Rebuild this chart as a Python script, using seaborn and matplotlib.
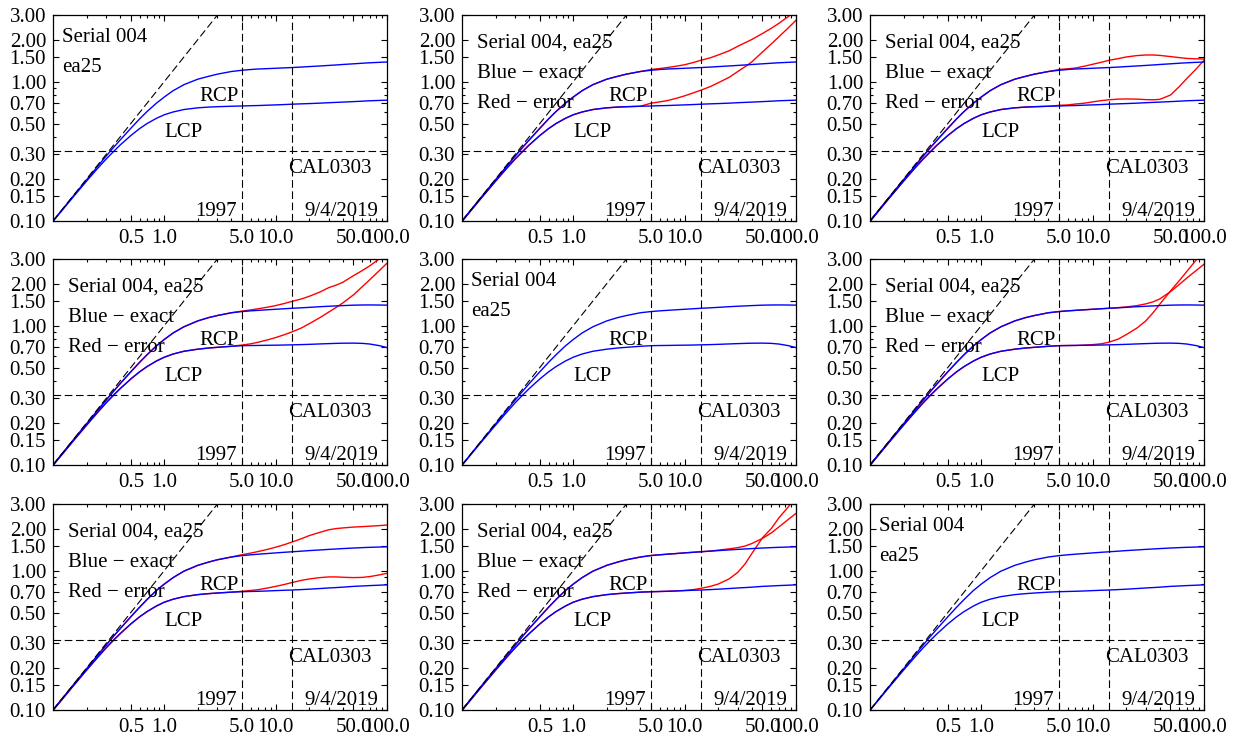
import matplotlib
matplotlib.use("Agg")
import matplotlib.pyplot as plt
import seaborn as sns
from matplotlib.ticker import FixedLocator, FormatStrFormatter, LogLocator, NullFormatter

# flux ratio curves (log-log)
X = [0.1, 0.15, 0.2, 0.25, 0.3, 0.35, 0.4, 0.5, 0.6, 0.7, 0.85, 1, 1.2, 1.5, 2, 2.5, 3, 4,
     5, 6, 7, 8.5, 10, 12, 14, 17, 20, 25, 30, 35, 40, 50, 60, 70, 85, 100]
X_TAIL = [5, 6, 7, 8.5, 10, 12, 14, 17, 20, 25, 30, 35, 40, 50, 60, 70, 85, 100]
N_HEAD = len(X) - len(X_TAIL)

# blue - exact (one pair per row)
RCP_ROW1 = [0.100, 0.149, 0.197, 0.245, 0.292, 0.337, 0.38, 0.462, 0.54, 0.61, 0.70, 0.775,
            0.86, 0.95, 1.04, 1.09, 1.13, 1.18,
            1.205, 1.22, 1.23, 1.238, 1.245, 1.253, 1.26, 1.27, 1.28, 1.293, 1.305, 1.315,
            1.325, 1.34, 1.353, 1.363, 1.373, 1.38]
LCP_ROW1 = [0.0995, 0.147, 0.193, 0.237, 0.278, 0.315, 0.35, 0.41, 0.46, 0.50, 0.545, 0.578,
            0.605, 0.63, 0.648, 0.656, 0.66, 0.665,
            0.668, 0.671, 0.673, 0.677, 0.68, 0.684, 0.688, 0.692, 0.695, 0.70, 0.705, 0.709,
            0.712, 0.718, 0.723, 0.728, 0.732, 0.735]
RCP_ROW2 = [0.100, 0.149, 0.197, 0.245, 0.292, 0.338, 0.382, 0.466, 0.545, 0.618, 0.715, 0.795,
            0.885, 0.98, 1.08, 1.14, 1.18, 1.235,
            1.26, 1.275, 1.285, 1.298, 1.308, 1.32, 1.33, 1.34, 1.35, 1.365, 1.375, 1.383,
            1.39, 1.40, 1.404, 1.405, 1.403, 1.40]
LCP_ROW2 = [0.0995, 0.147, 0.193, 0.237, 0.279, 0.317, 0.352, 0.414, 0.466, 0.508, 0.557, 0.593,
            0.625, 0.654, 0.677, 0.69, 0.698, 0.71,
            0.717, 0.719, 0.72, 0.722, 0.723, 0.725, 0.727, 0.73, 0.733, 0.738, 0.742, 0.745,
            0.747, 0.748, 0.745, 0.737, 0.718, 0.695]
RCP_ROW3 = [0.100, 0.149, 0.197, 0.245, 0.292, 0.338, 0.382, 0.466, 0.546, 0.62, 0.72, 0.80,
            0.89, 0.99, 1.09, 1.15, 1.195, 1.25,
            1.28, 1.297, 1.31, 1.325, 1.338, 1.352, 1.363, 1.377, 1.39, 1.405, 1.418, 1.428,
            1.437, 1.45, 1.46, 1.467, 1.474, 1.48]
LCP_ROW3 = [0.0995, 0.147, 0.193, 0.237, 0.279, 0.317, 0.352, 0.414, 0.466, 0.508, 0.557, 0.593,
            0.623, 0.65, 0.672, 0.683, 0.69, 0.70,
            0.705, 0.708, 0.71, 0.714, 0.718, 0.722, 0.725, 0.73, 0.735, 0.743, 0.75, 0.755,
            0.76, 0.77, 0.775, 0.78, 0.785, 0.79]

# red - error (tail part, x >= 5)
RED_RCP_P2 = [1.22, 1.24, 1.26, 1.29, 1.32, 1.37, 1.42, 1.48, 1.55, 1.66, 1.79, 1.90, 2.0,
              2.21, 2.41, 2.61, 2.92, 3.2]
RED_LCP_P2 = [0.70, 0.715, 0.73, 0.76, 0.79, 0.83, 0.867, 0.92, 0.98, 1.07, 1.18, 1.28, 1.38,
              1.63, 1.86, 2.09, 2.42, 2.75]
RED_RCP_P3 = [1.22, 1.235, 1.25, 1.29, 1.33, 1.375, 1.42, 1.46, 1.50, 1.535, 1.55, 1.55, 1.54,
              1.51, 1.485, 1.465, 1.455, 1.45]
RED_LCP_P3 = [0.675, 0.68, 0.69, 0.70, 0.715, 0.73, 0.74, 0.748, 0.75, 0.748, 0.742, 0.74,
              0.745, 0.80, 0.92, 1.05, 1.23, 1.42]
RED_RCP_P4 = [1.27, 1.295, 1.32, 1.355, 1.39, 1.44, 1.49, 1.55, 1.62, 1.74, 1.87, 1.95, 2.04,
              2.28, 2.48, 2.68, 3.0, 3.35]
RED_LCP_P4 = [0.725, 0.74, 0.76, 0.79, 0.82, 0.86, 0.90, 0.96, 1.03, 1.14, 1.25, 1.35, 1.45,
              1.66, 1.9, 2.13, 2.47, 2.8]
RED_RCP_P6 = [1.26, 1.275, 1.285, 1.298, 1.308, 1.32, 1.33, 1.345, 1.36, 1.39, 1.43, 1.48, 1.55,
              1.75, 1.97, 2.19, 2.48, 2.75]
RED_LCP_P6 = [0.718, 0.719, 0.72, 0.724, 0.73, 0.74, 0.76, 0.80, 0.86, 0.96, 1.08, 1.24, 1.42,
              1.77, 2.1, 2.44, 2.95, 3.4]
RED_RCP_P7 = [1.30, 1.335, 1.37, 1.42, 1.47, 1.535, 1.60, 1.69, 1.78, 1.88, 1.96, 2.0, 2.02,
              2.05, 2.065, 2.08, 2.10, 2.12]
RED_LCP_P7 = [0.71, 0.72, 0.73, 0.75, 0.77, 0.795, 0.82, 0.85, 0.87, 0.89, 0.90, 0.90, 0.895,
              0.89, 0.893, 0.905, 0.93, 0.955]
RED_RCP_P8 = [1.285, 1.298, 1.31, 1.325, 1.34, 1.353, 1.365, 1.38, 1.40, 1.43, 1.46, 1.50, 1.56,
              1.70, 1.86, 2.05, 2.32, 2.57]
RED_LCP_P8 = [0.705, 0.707, 0.71, 0.715, 0.72, 0.73, 0.745, 0.77, 0.80, 0.87, 0.97, 1.12, 1.32,
              1.72, 2.0, 2.38, 2.85, 3.4]

HLINE = 0.32
EPOCHS = [5, 14]
X_TICKS = [0.5, 1, 5, 10, 50, 100]
Y_TICKS = [0.1, 0.15, 0.2, 0.3, 0.5, 0.7, 1, 1.5, 2, 3]

blue_rows = [(RCP_ROW1, LCP_ROW1), (RCP_ROW2, LCP_ROW2), (RCP_ROW3, LCP_ROW3)]
red_panels = {1: (RED_RCP_P2, RED_LCP_P2), 2: (RED_RCP_P3, RED_LCP_P3),
              3: (RED_RCP_P4, RED_LCP_P4), 5: (RED_RCP_P6, RED_LCP_P6),
              6: (RED_RCP_P7, RED_LCP_P7), 7: (RED_RCP_P8, RED_LCP_P8)}

sns.set_style("ticks")
plt.rcParams['font.family'] = ['Liberation Serif', 'DejaVu Serif']
plt.rcParams['lines.scale_dashes'] = False
plt.rcParams.update({'text.color': 'black', 'xtick.color': 'black', 'ytick.color': 'black',
                     'xtick.labelcolor': 'black', 'ytick.labelcolor': 'black'})

W, H = 1242, 746
fig = plt.figure(figsize=(W / 100, H / 100), dpi=100)
col_left = [53, 462, 870]
row_top = [15, 259, 504]
aw, ah = 334, 206
dash = (0, (5.5, 2.6))
fs = 15

for i in range(9):
    r, c = divmod(i, 3)
    ax = fig.add_axes([col_left[c] / W, 1 - (row_top[r] + ah) / H, aw / W, ah / H])
    ax.set_xscale('log')
    ax.set_yscale('log')
    ax.set_xlim(0.1, 100)
    ax.set_ylim(0.1, 3.0)

    rcp, lcp = blue_rows[r]
    if i in red_panels:
        red_r, red_l = red_panels[i]
        sns.lineplot(x=X, y=rcp[:N_HEAD] + red_r, ax=ax, color='red', lw=1.0, estimator=None)
        sns.lineplot(x=X, y=lcp[:N_HEAD] + red_l, ax=ax, color='red', lw=1.0, estimator=None)
    sns.lineplot(x=X, y=rcp, ax=ax, color='blue', lw=1.0, estimator=None)
    sns.lineplot(x=X, y=lcp, ax=ax, color='blue', lw=1.0, estimator=None)

    # reference lines
    ax.axline((0.1, 0.1), (1, 1), color='black', lw=0.8, ls=dash)
    ax.axhline(HLINE, color='black', lw=0.8, ls=dash)
    for e in EPOCHS:
        ax.axvline(e, color='black', lw=0.8, ls=dash)

    # texts
    if i in red_panels:
        ax.text(0.044, 0.862, 'Serial 004, ea25', transform=ax.transAxes, fontsize=fs, va='center')
        ax.text(0.044, 0.717, 'Blue \u2212 exact', transform=ax.transAxes, fontsize=fs, va='center')
        ax.text(0.044, 0.572, 'Red \u2212 error', transform=ax.transAxes, fontsize=fs, va='center')
    else:
        ax.text(0.027, 0.892, 'Serial 004', transform=ax.transAxes, fontsize=fs, va='center')
        ax.text(0.027, 0.747, 'ea25', transform=ax.transAxes, fontsize=fs, va='center')
    ax.text(3.1, 0.78, 'RCP', fontsize=fs, ha='center', va='center')
    ax.text(1.5, 0.432, 'LCP', fontsize=fs, ha='center', va='center')
    ax.text(31, 0.238, 'CAL0303', fontsize=fs, ha='center', va='center')
    ax.text(4.45, 0.1175, '1997', fontsize=fs, ha='right', va='center')
    ax.text(83, 0.1175, '9/4/2019', fontsize=fs, ha='right', va='center')

    # axes styling
    ax.xaxis.set_major_locator(FixedLocator(X_TICKS))
    ax.xaxis.set_major_formatter(FormatStrFormatter('%.1f'))
    ax.xaxis.set_minor_locator(LogLocator(base=10, subs=range(2, 10), numticks=20))
    ax.xaxis.set_minor_formatter(NullFormatter())
    ax.yaxis.set_major_locator(FixedLocator(Y_TICKS))
    ax.yaxis.set_major_formatter(FormatStrFormatter('%.2f'))
    ax.yaxis.set_minor_locator(LogLocator(base=10, subs=range(2, 10), numticks=20))
    ax.yaxis.set_minor_formatter(NullFormatter())
    ax.tick_params(which='both', direction='in', top=True, right=True, color='black',
                   labelsize=15, width=0.8)
    ax.tick_params(which='major', length=4)
    ax.tick_params(which='minor', length=2.2)
    ax.tick_params(axis='x', pad=6)
    ax.tick_params(axis='y', pad=5)
    for s in ax.spines.values():
        s.set_color('black')
        s.set_linewidth(0.9)

fig.savefig('out.png', dpi=100)
